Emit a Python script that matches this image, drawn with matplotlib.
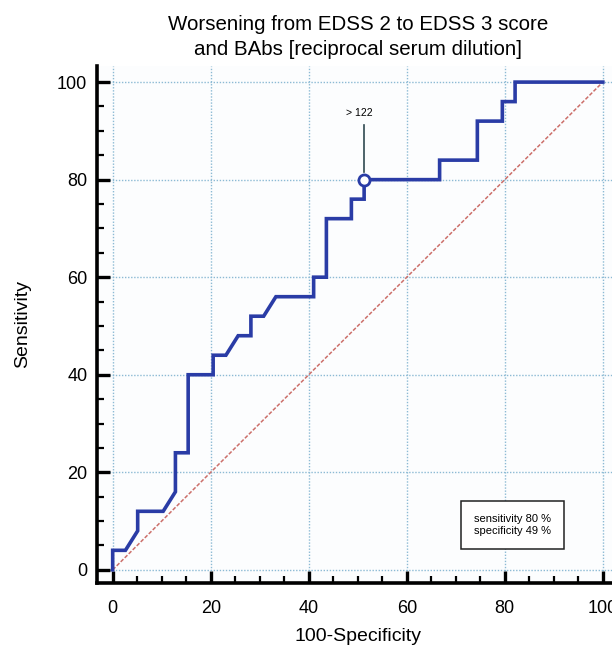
import matplotlib.pyplot as plt

plt.rcParams['font.family'] = ['Liberation Sans', 'DejaVu Sans']

# ROC curve points (100-Specificity, Sensitivity)
fpr = [0, 0, 2.6, 5.1, 5.1, 10.3, 12.8, 12.8, 15.4, 15.4, 20.5, 20.5, 23.1, 25.6,
       28.2, 28.2, 30.8, 33.3, 41.0, 41.0, 43.6, 43.6, 48.7, 48.7, 51.3, 51.3,
       66.7, 66.7, 74.4, 74.4, 79.5, 79.5, 82.1, 82.1, 100]
tpr = [0, 4, 4, 8, 12, 12, 16, 24, 24, 40, 40, 44, 44, 48,
       48, 52, 52, 56, 56, 60, 60, 72, 72, 76, 76, 80,
       80, 84, 84, 92, 92, 96, 96, 100, 100]

cut_x, cut_y = 51.3, 80
cut_label = "> 122"
box_text = "sensitivity 80 %\nspecificity 49 %"
ticks = [0, 20, 40, 60, 80, 100]

fig = plt.figure(figsize=(6.12, 6.47), dpi=100, facecolor='white')
ax = fig.add_axes([97/612, 64/647, 522/612, 517/647])
ax.set_facecolor('#fcfdfe')

ax.plot([0, 100], [0, 100], color='#cc6f6a', lw=1.1, dashes=(2.5, 1.2))
ax.plot(fpr, tpr, color='#2a3ca6', lw=2.6, solid_joinstyle='miter', zorder=3)
ax.plot([cut_x, cut_x], [cut_y + 1.5, 91.3], color='#2f4a50', lw=1.2, zorder=3)
ax.plot(cut_x, cut_y, 'o', ms=8, mfc='white', mec='#2a3ca6', mew=2, zorder=4)
ax.text(cut_x - 1.0, 92.6, cut_label, fontsize=7.5, ha='center', va='bottom')

ax.text(81.6, 9.2, box_text, fontsize=8, ha='center', va='center', linespacing=1.15,
        bbox=dict(boxstyle='square,pad=1.2', fc='white', ec='#222222', lw=1.1))

ax.set_xlim(-3.2, 103.3)
ax.set_ylim(-2.7, 103.3)
ax.set_xticks(ticks)
ax.set_yticks(ticks)
ax.set_xticks(range(0, 101, 5), minor=True)
ax.set_yticks(range(0, 101, 5), minor=True)
ax.tick_params(which='major', direction='in', length=9, width=2.4, labelsize=13, color='black')
ax.tick_params(which='minor', direction='in', length=5, width=1.6, color='black')
ax.tick_params(axis='x', pad=12)
ax.tick_params(axis='y', pad=7)

ax.grid(True, which='major', color='#8cbad4', ls=(0, (1, 1.2)), lw=1.0)
ax.set_axisbelow(True)

for s in ['top', 'right']:
    ax.spines[s].set_visible(False)
for s in ['left', 'bottom']:
    ax.spines[s].set_linewidth(2.6)

ax.set_xlabel('100-Specificity', fontsize=14, labelpad=8)
ax.set_ylabel('Sensitivity', fontsize=14, labelpad=19)
ax.set_title('Worsening from EDSS 2 to EDSS 3 score\nand BAbs [reciprocal serum dilution]',
             fontsize=14.8, pad=8, linespacing=1.4)

fig.savefig('out.png', dpi=100)
